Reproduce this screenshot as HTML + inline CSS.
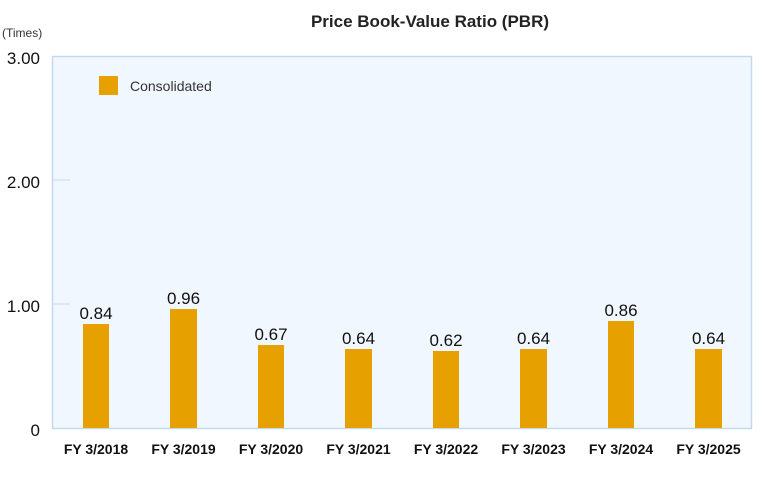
<!DOCTYPE html>
<html><head><meta charset="utf-8"><style>
html,body{margin:0;padding:0;background:#fff;width:764px;height:490px;overflow:hidden}
svg text{font-family:"Liberation Sans",sans-serif}
</style></head><body>
<svg width="764" height="490" viewBox="0 0 764 490" xmlns="http://www.w3.org/2000/svg">
<text x="430" y="27" text-anchor="middle" font-size="17" font-weight="bold" fill="#222">Price Book-Value Ratio (PBR)</text>
<text x="2" y="37" font-size="12" fill="#333">(Times)</text>
<rect x="52.5" y="56.5" width="699" height="372" fill="#f1f7fe" stroke="#c5d9ee" stroke-width="1.5"/>
<line x1="52" y1="180" x2="70" y2="180" stroke="#c5d9ee"/>
<line x1="52" y1="304" x2="70" y2="304" stroke="#c5d9ee"/>
<g font-size="17" fill="#111" text-anchor="end">
<text x="40" y="64">3.00</text>
<text x="40" y="188">2.00</text>
<text x="40" y="312">1.00</text>
<text x="40" y="436">0</text>
</g>
<rect x="99" y="76" width="19" height="19" fill="#e6a000"/>
<text x="130" y="91" font-size="14" fill="#333">Consolidated</text>
<g fill="#e6a000">
<rect x="83" y="324" width="26" height="104"/>
<rect x="170" y="309" width="27" height="119"/>
<rect x="258" y="345" width="26" height="83"/>
<rect x="345" y="349" width="27" height="79"/>
<rect x="433" y="351" width="26" height="77"/>
<rect x="520" y="349" width="27" height="79"/>
<rect x="608" y="321" width="26" height="107"/>
<rect x="695" y="349" width="27" height="79"/>
</g>
<g font-size="17" fill="#111" text-anchor="middle">
<text x="96" y="319">0.84</text>
<text x="183.5" y="304">0.96</text>
<text x="271" y="340">0.67</text>
<text x="358.5" y="344">0.64</text>
<text x="446" y="346">0.62</text>
<text x="533.5" y="344">0.64</text>
<text x="621" y="316">0.86</text>
<text x="708.5" y="344">0.64</text>
</g>
<g font-size="14" font-weight="bold" fill="#111" text-anchor="middle">
<text x="96" y="454">FY 3/2018</text>
<text x="183.5" y="454">FY 3/2019</text>
<text x="271" y="454">FY 3/2020</text>
<text x="358.5" y="454">FY 3/2021</text>
<text x="446" y="454">FY 3/2022</text>
<text x="533.5" y="454">FY 3/2023</text>
<text x="621" y="454">FY 3/2024</text>
<text x="708.5" y="454">FY 3/2025</text>
</g>
</svg>
</body></html>
